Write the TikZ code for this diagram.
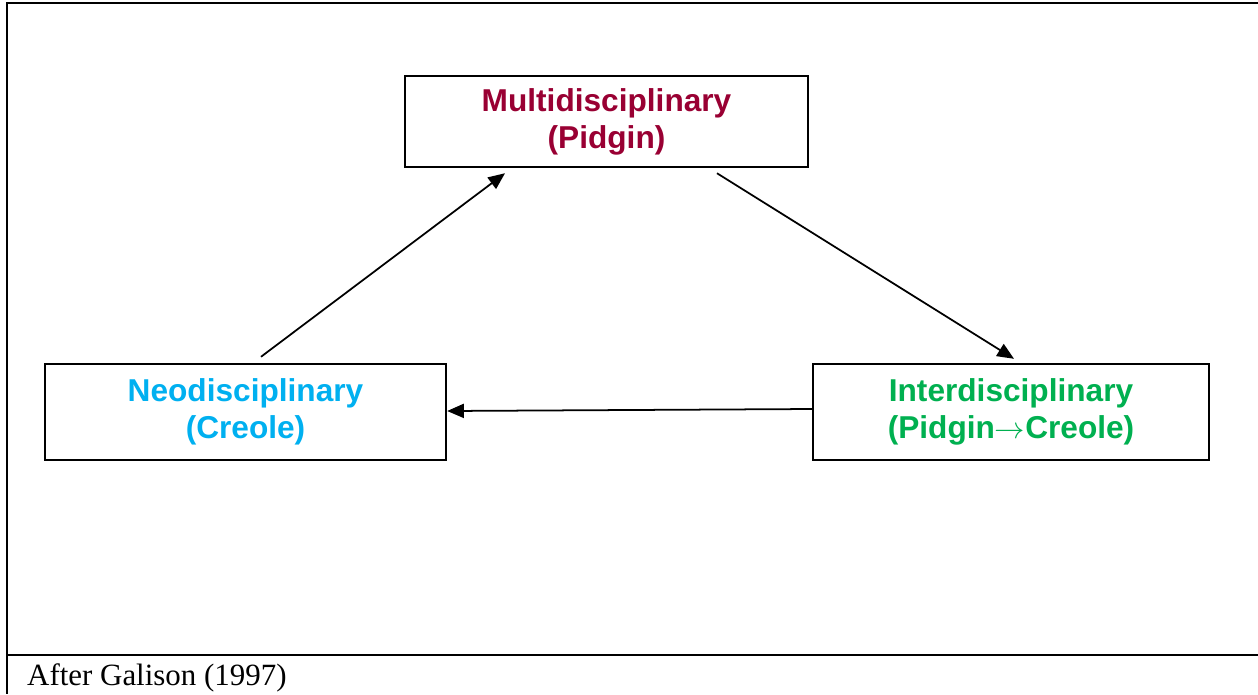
\documentclass[tikz,border=0pt]{standalone}
\usepackage{fontspec}
\setmainfont{Liberation Serif}
\setsansfont{Liberation Sans}
\usetikzlibrary{arrows.meta}
\definecolor{multi-red}{HTML}{990033}
\definecolor{neo-blue}{HTML}{00B0F0}
\definecolor{inter-green}{HTML}{00B050}

\begin{document}
\begin{tikzpicture}[x=0.02cm, y=-0.02cm,
        every node/.style={font=\sffamily\bfseries\fontsize{18}{21}\selectfont},
        discbox/.style={draw=black, line width=1.4pt, fill=white, inner sep=0pt,
            minimum height=1.92cm, align=center},
        flow/.style={-{Triangle[length=9.5pt, width=8pt]}, line width=1pt}]
      \useasboundingbox (0,0) rectangle (1258,694);
      % frame of the figure
      \draw[line width=1.1pt] (1258,3) -- (7,3) -- (7,694);
      \draw[line width=1.1pt] (7,655) -- (1258,655);
      \node[text=black, font=\rmfamily\fontsize{17.6}{20}\selectfont, anchor=base west]
            (SRC) at (21,685) {After Galison (1997)};
      % the three kinds of collaboration
      \node[discbox, text=multi-red, minimum width=8.06cm, minimum height=1.82cm]
            (MULTI) at (606.5,121.5) {Multidisciplinary\\(Pidgin)};
      \node[discbox, text=neo-blue, minimum width=8.02cm]
            (NEO) at (245.5,412) {Neodisciplinary\\(Creole)};
      \node[discbox, text=inter-green, minimum width=7.92cm]
            (INTER) at (1011,412) {Interdisciplinary\\(Pidgin$\rightarrow$Creole)};
      \draw[flow] ([xshift=0.31cm, yshift=0.12cm]NEO.north) -- ([xshift=-2.03cm, yshift=-0.1cm]MULTI.south);
      \draw[flow] ([xshift=2.21cm, yshift=-0.1cm]MULTI.south) -- ([xshift=0.06cm, yshift=0.08cm]INTER.north);
      \draw[flow] ([yshift=0.06cm]INTER.west) -- ([yshift=0.02cm]NEO.east);
    \end{tikzpicture}
\end{document}
